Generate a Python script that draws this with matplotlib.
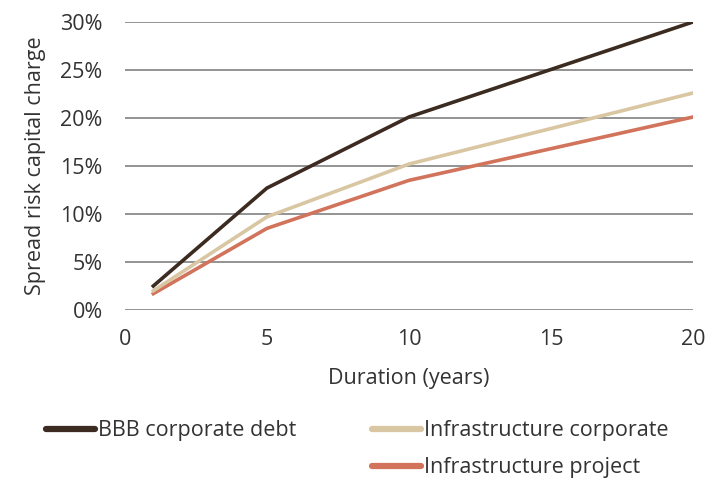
import matplotlib
matplotlib.use("Agg")
import matplotlib.pyplot as plt
from matplotlib.lines import Line2D

plt.rcParams['font.family'] = ['Open Sans', 'DejaVu Sans']

duration = [1, 5, 10, 20]
bbb = [2.5, 12.7, 20.1, 30.0]
infra_corp = [2.0, 9.7, 15.2, 22.6]
infra_proj = [1.7, 8.5, 13.5, 20.1]

series_names = ["BBB corporate debt", "Infrastructure corporate", "Infrastructure project"]
colors = ["#3b2b20", "#d9c6a3", "#d2735c"]
xticks = [0, 5, 10, 15, 20]
yticks = [0, 5, 10, 15, 20, 25, 30]

FS = 15.5
TC = "#333333"

fig = plt.figure(figsize=(7.18, 4.78), dpi=100)
ax = fig.add_axes([0.174, 0.3515, 0.791, 0.6025])

for v in yticks:
    ax.axhline(v, color="#8a8a8a", lw=1.3, zorder=1)

ax.plot(duration, infra_proj, color=colors[2], lw=2.6, zorder=3)
ax.plot(duration, infra_corp, color=colors[1], lw=2.6, zorder=3)
ax.plot(duration, bbb, color=colors[0], lw=2.6, zorder=4)

ax.set_xlim(0, 20)
ax.set_ylim(0, 30)
ax.set_xticks(xticks)
ax.set_xticklabels([str(t) for t in xticks])
ax.set_yticks(yticks)
ax.set_yticklabels([f"{t}%" for t in yticks])
ax.tick_params(length=0, labelsize=FS, colors=TC)
ax.tick_params(axis='x', pad=14)
ax.tick_params(axis='y', pad=16)
for s in ax.spines.values():
    s.set_visible(False)
ax.set_xlabel("Duration (years)", fontsize=FS, color=TC, labelpad=13)
ax.set_ylabel("Spread risk capital charge", fontsize=FS, color=TC, labelpad=10)

handles = [Line2D([], [], color=c, lw=4.5, solid_capstyle='round') for c in colors]
leg1 = fig.legend([handles[0]], [series_names[0]], loc="center left",
                  bbox_to_anchor=(0.064, 0.099), frameon=False, fontsize=FS,
                  handlelength=2.3, handletextpad=0.1, borderpad=0, borderaxespad=0)
for t in leg1.get_texts():
    t.set_color(TC)
leg2 = fig.legend(handles[1:], series_names[1:], loc="center left",
                  bbox_to_anchor=(0.518, 0.060), frameon=False, fontsize=FS,
                  handlelength=2.3, handletextpad=0.1, labelspacing=0.75,
                  borderpad=0, borderaxespad=0)
for t in leg2.get_texts():
    t.set_color(TC)

fig.savefig("out.png", dpi=100)
